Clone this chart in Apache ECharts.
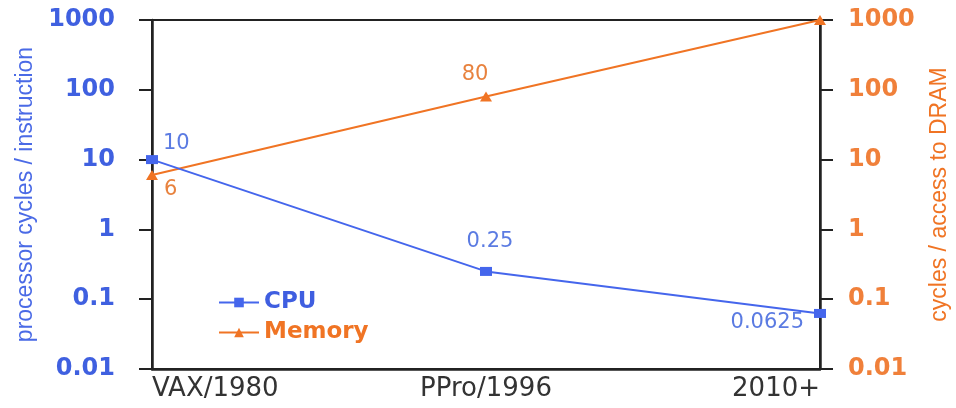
<!DOCTYPE html>
<html>
<head>
<meta charset="utf-8">
<script src="https://cdn.jsdelivr.net/npm/echarts@6/dist/echarts.min.js"></script>
<style>html,body{margin:0;padding:0;background:#fff;}#c{width:956px;height:408px;}</style>
</head>
<body>
<div id="c"></div>
<script>
const categories = ['VAX/1980', 'PPro/1996', '2010+'];
const cpuValues = [10, 0.25, 0.0625];
const memoryValues = [6, 80, 1000];
const cpuLabels = ['10', '0.25', '0.0625'];
const memoryLabels = ['6', '80', ''];
const tickLabels = {0.01: '0.01', 0.1: '0.1', 1: '1', 10: '10', 100: '100', 1000: '1000'};

const BLUE = '#4566ec';
const BLUE_TXT = '#5b7be2';
const ORANGE = '#f07424';
const ORANGE_TXT = '#e8823e';

const cpuLabelCfg = [
  {position: 'right', offset: [0, -16]},
  {position: 'top', offset: [4, -10]},
  {position: 'left', offset: [-5, 9]}
];
const memLabelCfg = [
  {position: 'right', offset: [1, 14]},
  {position: 'top', offset: [-11, -2]},
  {show: false}
];

function fmtTick(v) {
  const key = Number(v.toPrecision(6));
  return tickLabels[key] !== undefined ? tickLabels[key] : String(key);
}

const chart = echarts.init(document.getElementById('c'));
const yCommon = {
  type: 'log', logBase: 10, min: 0.01, max: 1000,
  splitLine: {show: false},
  axisLine: {show: true, lineStyle: {color: '#222', width: 2.5}},
  axisTick: {show: true, length: 13, lineStyle: {color: '#222', width: 2}},
  nameLocation: 'middle',
  nameRotate: 90
};
chart.setOption({
  animation: false,
  backgroundColor: '#fff',
  grid: {left: 152, right: 136, top: 20, bottom: 39, show: true, borderColor: '#222', borderWidth: 2, containLabel: false, outerBoundsMode: 'none'},
  legend: {
    orient: 'vertical', left: 213, top: 286, itemWidth: 40, itemHeight: 12, itemGap: 7,
    data: [
      {name: 'CPU', textStyle: {color: '#3f5ee0'}},
      {name: 'Memory', textStyle: {color: '#f07424'}}
    ],
    textStyle: {fontFamily: 'DejaVu Sans', fontWeight: 'bold', fontSize: 23}
  },
  xAxis: {
    type: 'category', data: categories, boundaryGap: false,
    axisLine: {show: true, lineStyle: {color: '#222', width: 2.5}},
    axisTick: {show: false},
    axisLabel: {color: '#333', fontFamily: 'DejaVu Sans', fontSize: 26, margin: 7, alignMinLabel: 'left', alignMaxLabel: 'right'}
  },
  yAxis: [
    Object.assign({}, yCommon, {
      position: 'left',
      name: 'processor cycles / instruction', nameGap: 113,
      nameTextStyle: {color: '#4a6ae6', fontFamily: 'Liberation Sans', fontSize: 23},
      axisLabel: {color: '#3f60e0', fontFamily: 'DejaVu Sans', fontWeight: 'bold', fontSize: 24, margin: 37, formatter: fmtTick}
    }),
    Object.assign({}, yCommon, {
      position: 'right',
      name: 'cycles / access to DRAM', nameGap: 108,
      nameTextStyle: {color: ORANGE, fontFamily: 'Liberation Sans', fontSize: 23},
      axisLabel: {color: '#f0803a', fontFamily: 'DejaVu Sans', fontWeight: 'bold', fontSize: 24, margin: 28, formatter: fmtTick}
    })
  ],
  series: [
    {
      name: 'CPU', type: 'line', yAxisIndex: 0,
      symbol: 'rect', symbolSize: [12, 9],
      itemStyle: {color: BLUE},
      lineStyle: {color: BLUE, width: 2},
      data: cpuValues.map((v, i) => ({
        value: v,
        label: Object.assign({show: true, formatter: cpuLabels[i], color: BLUE_TXT, fontFamily: 'DejaVu Sans', fontSize: 21}, cpuLabelCfg[i])
      })),
      z: 3
    },
    {
      name: 'Memory', type: 'line', yAxisIndex: 1,
      symbol: 'triangle', symbolSize: [12, 10],
      itemStyle: {color: ORANGE},
      lineStyle: {color: ORANGE, width: 2},
      data: memoryValues.map((v, i) => ({
        value: v,
        label: Object.assign({show: true, formatter: memoryLabels[i], color: ORANGE_TXT, fontFamily: 'DejaVu Sans', fontSize: 21}, memLabelCfg[i])
      })),
      z: 2
    }
  ]
});
</script>
</body>
</html>
